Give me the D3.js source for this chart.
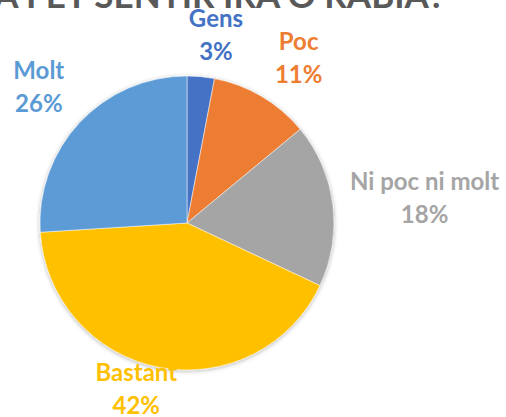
<!DOCTYPE html>
<html>
<head>
<meta charset="utf-8">
<script src="https://cdn.jsdelivr.net/npm/d3@7"></script>
<style>
  body { margin: 0; background: #fff; }
  svg { display: block; }
  text { font-family: Lato, "Open Sans", sans-serif; font-weight: bold; }
</style>
</head>
<body>
<script>
// answers and shares (%)
let categories = ["Gens", "Poc", "Ni poc ni molt", "Bastant", "Molt"]
let values = [3, 11, 18, 42, 26]
let colors = ["#4472C4", "#ED7D31", "#A5A5A5", "#FFC000", "#5B9BD5"]
let title = "T'HA FET SENTIR IRA O RÀBIA?"

// label nudges from the slice centroid, like labels dragged by hand in excel
let labelNudge = [[12, 0], [20, -2], [59, 6], [-17, -2], [-17, -4]]

const width = 506
const height = 417
const cx = 187
const cy = 223
const radius = 147

let svg = d3.select("body").append("svg")
    .attr("width", width)
    .attr("height", height)

let defs = svg.append("defs")
defs.append("filter").attr("id", "shadow")
    .attr("x", "-10%").attr("y", "-10%").attr("width", "120%").attr("height", "120%")
    .append("feDropShadow")
    .attr("dx", 0).attr("dy", 1).attr("stdDeviation", 2)
    .attr("flood-color", "#000").attr("flood-opacity", 0.3)

// title, its top is cut by the frame
svg.append("text")
    .attr("x", 445)
    .attr("y", 8)
    .attr("text-anchor", "end")
    .attr("fill", "#595959")
    .style("font-size", "35px")
    .text(title)

let data = categories.map((c, i) => ({ name: c, value: values[i], color: colors[i], nudge: labelNudge[i] }))

let pie = d3.pie().sort(null).value(d => d.value)
let arc = d3.arc().innerRadius(0).outerRadius(radius)
let labelArc = d3.arc().innerRadius(180).outerRadius(180)
let arcs = pie(data)

let g = svg.append("g").attr("transform", "translate(" + cx + "," + cy + ")")

g.append("g").attr("filter", "url(#shadow)")
    .selectAll("path")
    .data(arcs)
    .enter()
    .append("path")
    .attr("d", arc)
    .attr("fill", d => d.data.color)
    .attr("stroke", "#fff")
    .attr("stroke-width", 0.5)

// labels outside the slices
let labels = g.selectAll(".label")
    .data(arcs)
    .enter()
    .append("text")
    .attr("class", "label")
    .attr("text-anchor", "middle")
    .attr("fill", d => d.data.color)
    .style("font-size", "24px")
    .attr("transform", d => {
        let c = labelArc.centroid(d)
        return "translate(" + (c[0] + d.data.nudge[0]) + "," + (c[1] + d.data.nudge[1]) + ")"
    })

labels.append("tspan").attr("x", 0).attr("y", -16.5).text(d => d.data.name)
labels.append("tspan").attr("x", 0).attr("y", 16.5).text(d => d.data.value + "%")
</script>
</body>
</html>
